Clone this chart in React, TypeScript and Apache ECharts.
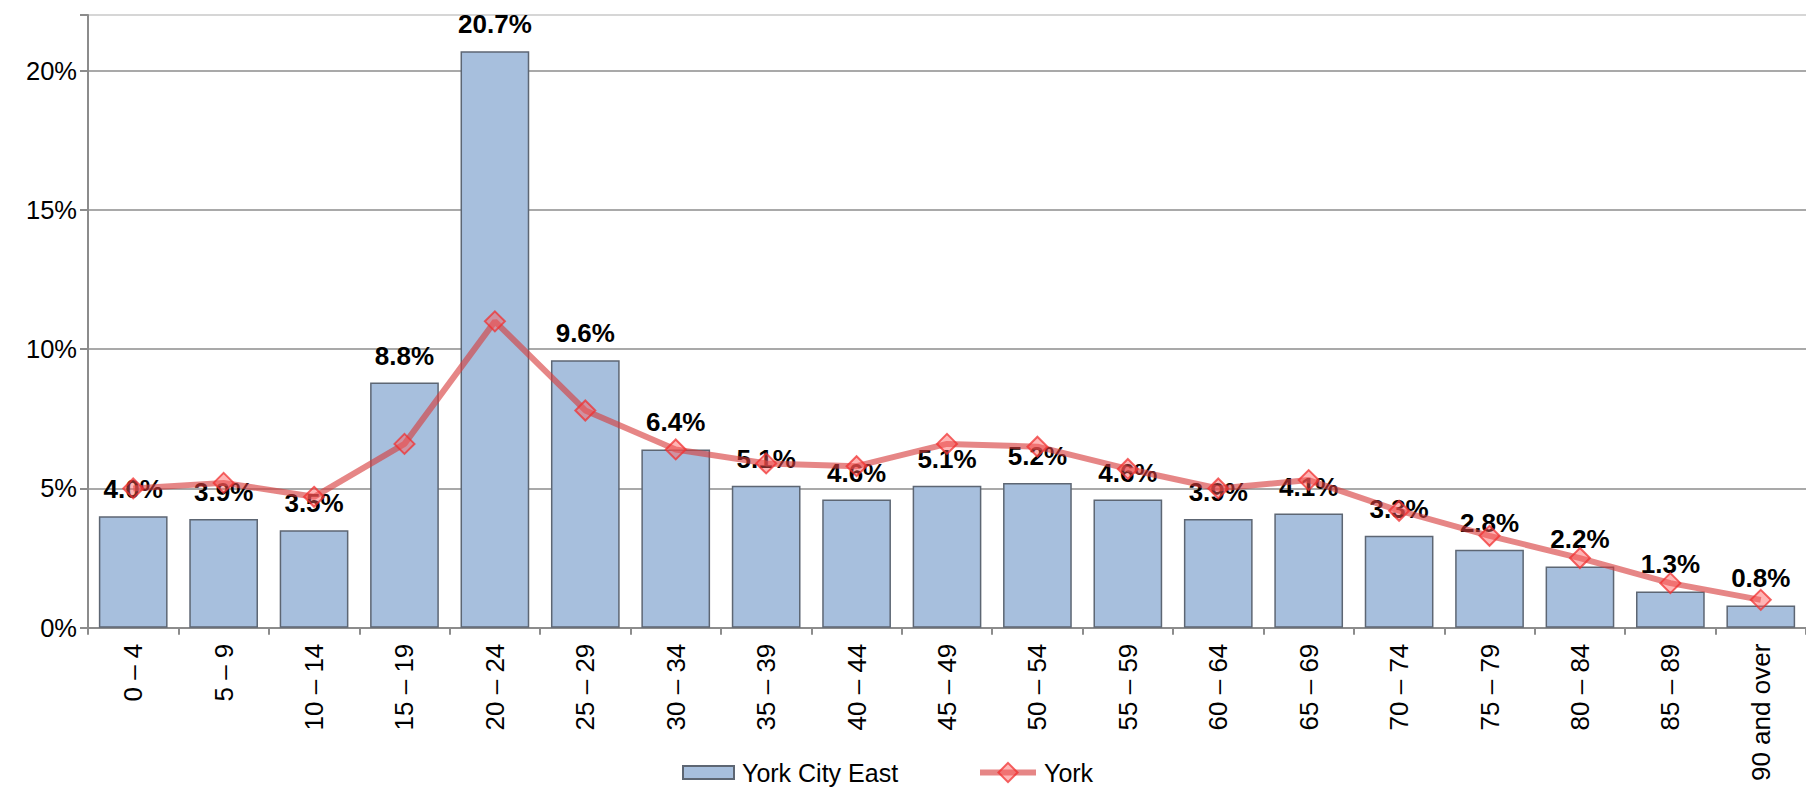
import React, { useEffect, useRef } from "react";
import * as echarts from "echarts";

const categories = [
  "0 – 4", "5 – 9", "10 – 14", "15 – 19", "20 – 24", "25 – 29", "30 – 34",
  "35 – 39", "40 – 44", "45 – 49", "50 – 54", "55 – 59", "60 – 64", "65 – 69",
  "70 – 74", "75 – 79", "80 – 84", "85 – 89", "90 and over",
];
const yorkCityEast = [4.0, 3.9, 3.5, 8.8, 20.7, 9.6, 6.4, 5.1, 4.6, 5.1, 5.2, 4.6, 3.9, 4.1, 3.3, 2.8, 2.2, 1.3, 0.8];
const york = [5.0, 5.2, 4.7, 6.6, 11.0, 7.8, 6.4, 5.9, 5.8, 6.6, 6.5, 5.7, 5.0, 5.3, 4.2, 3.3, 2.5, 1.6, 1.0];
const yTicks = [0, 5, 10, 15, 20];
const seriesNames = ["York City East", "York"];

const FONT = "'Liberation Sans', Arial, sans-serif";
const LINE_COLOR = "rgba(214, 60, 60, 0.62)";

export default function App() {
  const ref = useRef<HTMLDivElement>(null);
  useEffect(() => {
    if (!ref.current) return;
    const chart = echarts.init(ref.current, undefined, { renderer: "svg" });
    const legendText = { fontSize: 25, color: "#000", fontFamily: FONT, padding: [0, 0, 0, 3] };
    chart.setOption({
      animation: false,
      backgroundColor: "#ffffff",
      textStyle: { fontFamily: FONT },
      grid: { left: 88, top: 15, width: 1725, height: 612.7, containLabel: false },
      legend: [
        {
          left: 677,
          top: 755,
          itemWidth: 51,
          itemHeight: 13,
          textStyle: legendText,
          data: [{ name: seriesNames[0], icon: "rect" }],
        },
        {
          left: 972,
          top: 755,
          itemWidth: 56,
          itemHeight: 24,
          textStyle: legendText,
          lineStyle: { width: 6, color: LINE_COLOR },
          data: [{ name: seriesNames[1] }],
        },
      ],
      xAxis: {
        type: "category",
        data: categories,
        axisLine: { lineStyle: { color: "#8c8c8c", width: 2 } },
        axisTick: { show: true, length: 7, lineStyle: { color: "#8c8c8c", width: 2 } },
        axisLabel: { rotate: 90, fontSize: 26, color: "#000", margin: 16, fontFamily: FONT },
        splitLine: { show: false },
      },
      yAxis: {
        type: "value",
        min: 0,
        max: 22,
        interval: 5,
        axisLine: { show: true, lineStyle: { color: "#8c8c8c", width: 2 } },
        axisTick: { show: true, length: 8, lineStyle: { color: "#8c8c8c", width: 2 } },
        axisLabel: {
          fontSize: 25.5,
          color: "#000",
          margin: 11,
          fontFamily: FONT,
          formatter: (v: number) => (yTicks.includes(v) ? v + "%" : ""),
        },
        splitLine: {
          show: true,
          lineStyle: { color: ["#8c8c8c", "#8c8c8c", "#8c8c8c", "#8c8c8c", "#8c8c8c", "#c8c8c8"], width: 1.5 },
        },
      },
      series: [
        {
          name: seriesNames[0],
          type: "bar",
          data: yorkCityEast,
          barCategoryGap: "24%",
          z: 2,
          itemStyle: { color: "#a7bfdd", borderColor: "#5d6673", borderWidth: 1.5 },
          label: {
            show: true,
            position: "top",
            distance: 14,
            fontSize: 26,
            fontWeight: "bold",
            color: "#000",
            fontFamily: FONT,
            formatter: (p: any) => Number(p.value).toFixed(1) + "%",
          },
        },
        {
          name: seriesNames[1],
          type: "line",
          data: york,
          z: 5,
          symbol: "diamond",
          symbolSize: 20,
          lineStyle: { color: LINE_COLOR, width: 6 },
          itemStyle: { color: "rgba(255, 90, 90, 0.45)", borderColor: "rgba(240, 50, 50, 0.75)", borderWidth: 2 },
        },
      ],
    });
    return () => chart.dispose();
  }, []);
  return (
    <div
      ref={ref}
      style={{ position: "absolute", left: 0, top: 0, width: 1806, height: 787 }}
    />
  );
}
